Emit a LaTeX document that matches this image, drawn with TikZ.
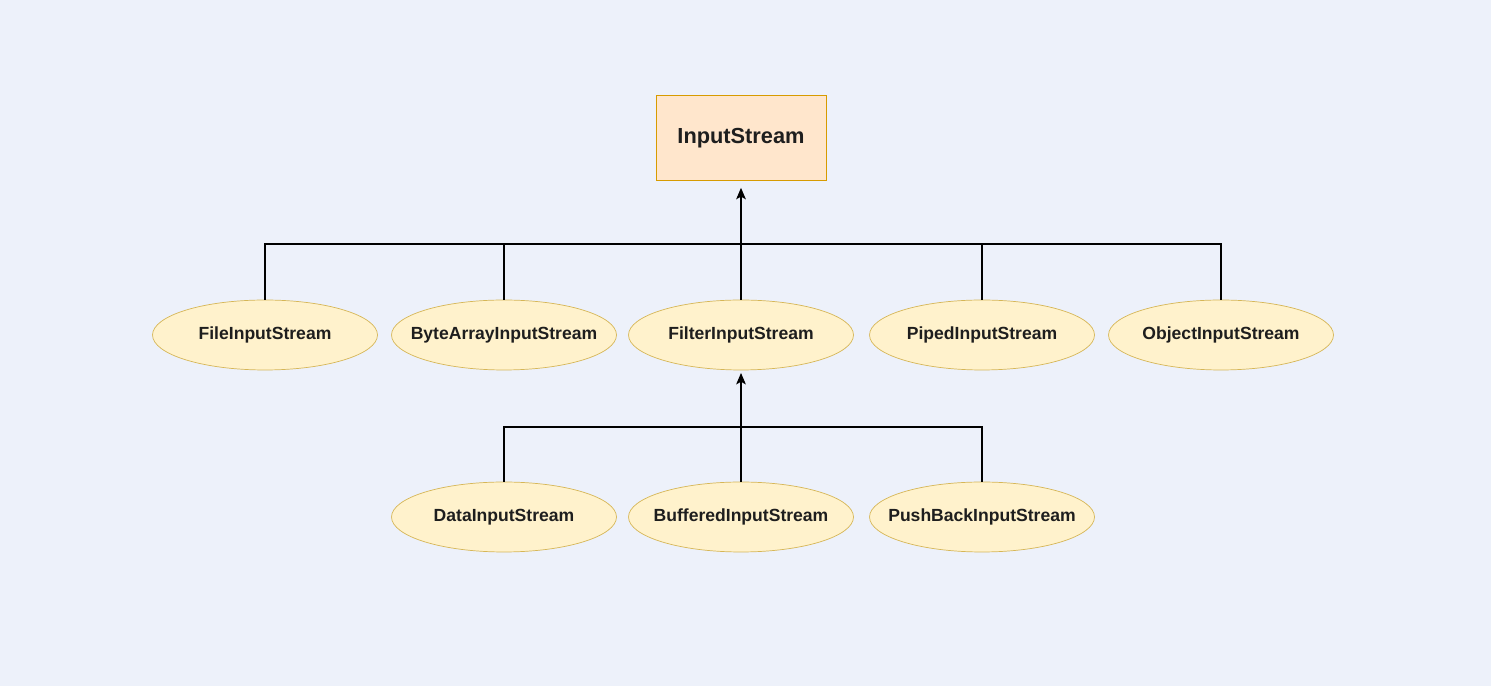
\documentclass[tikz,border=0pt]{standalone}
\usepackage{fontspec}
\setmainfont{Liberation Sans}
\usetikzlibrary{arrows.meta,positioning,shapes.geometric}
\definecolor{mybg}{RGB}{237,241,250}
\definecolor{mypeach}{RGB}{255,230,204}
\definecolor{myorange}{RGB}{215,155,0}
\definecolor{mycream}{RGB}{255,242,204}
\definecolor{mygold}{RGB}{214,182,86}
\definecolor{mytext}{RGB}{30,30,30}
\tikzstyle{base}=[draw=myorange,fill=mypeach,rectangle,minimum width=3.4cm,minimum height=1.7cm,inner sep=0pt,text=mytext,font=\fontsize{12.4}{15}\selectfont\bfseries]
\tikzstyle{stream}=[draw=mygold,fill=mycream,ellipse,minimum width=4.5cm,minimum height=1.4cm,inner xsep=-1.5cm,inner ysep=0pt,text=mytext,font=\fontsize{10}{12}\selectfont\bfseries]
\tikzstyle{link}=[draw=black,line width=0.65pt]
\tikzstyle{up}=[-{Stealth[length=6.5pt,width=5.5pt,inset=1.5pt]}]
\begin{document}
\begin{tikzpicture}[x=0.02cm,y=0.02cm]
\fill [mybg] (0,0) rectangle (1491,686);
\useasboundingbox (0,0) rectangle (1491,686);
% root
\node [base] (is) at (741,548) {InputStream};
% first row
\node [stream] (fis) at (265,351) {FileInputStream};
\node [stream] (bais) at (504,351) {ByteArrayInputStream};
\node [stream] (fltr) at (741,351) {FilterInputStream};
\node [stream] (pis) at (982,351) {PipedInputStream};
\node [stream] (ois) at (1221,351) {ObjectInputStream};
% second row
\node [stream] (dis) at (504,169) {DataInputStream};
\node [stream] (bis) at (741,169) {BufferedInputStream};
\node [stream] (pbis) at (982,169) {PushBackInputStream};
\coordinate (bus1) at (741,442);
\coordinate (bus2) at (741,259);
% connectors
\draw [link,up,shorten >=4pt] (fltr.north) -- (is.south);
\foreach \n in {fis,bais,pis,ois}
  \draw [link] (\n.north) |- (bus1);
\draw [link,up,shorten >=1.5pt] (bis.north) -- (fltr.south);
\foreach \n in {dis,pbis}
  \draw [link] (\n.north) |- (bus2);
\end{tikzpicture}
\end{document}
